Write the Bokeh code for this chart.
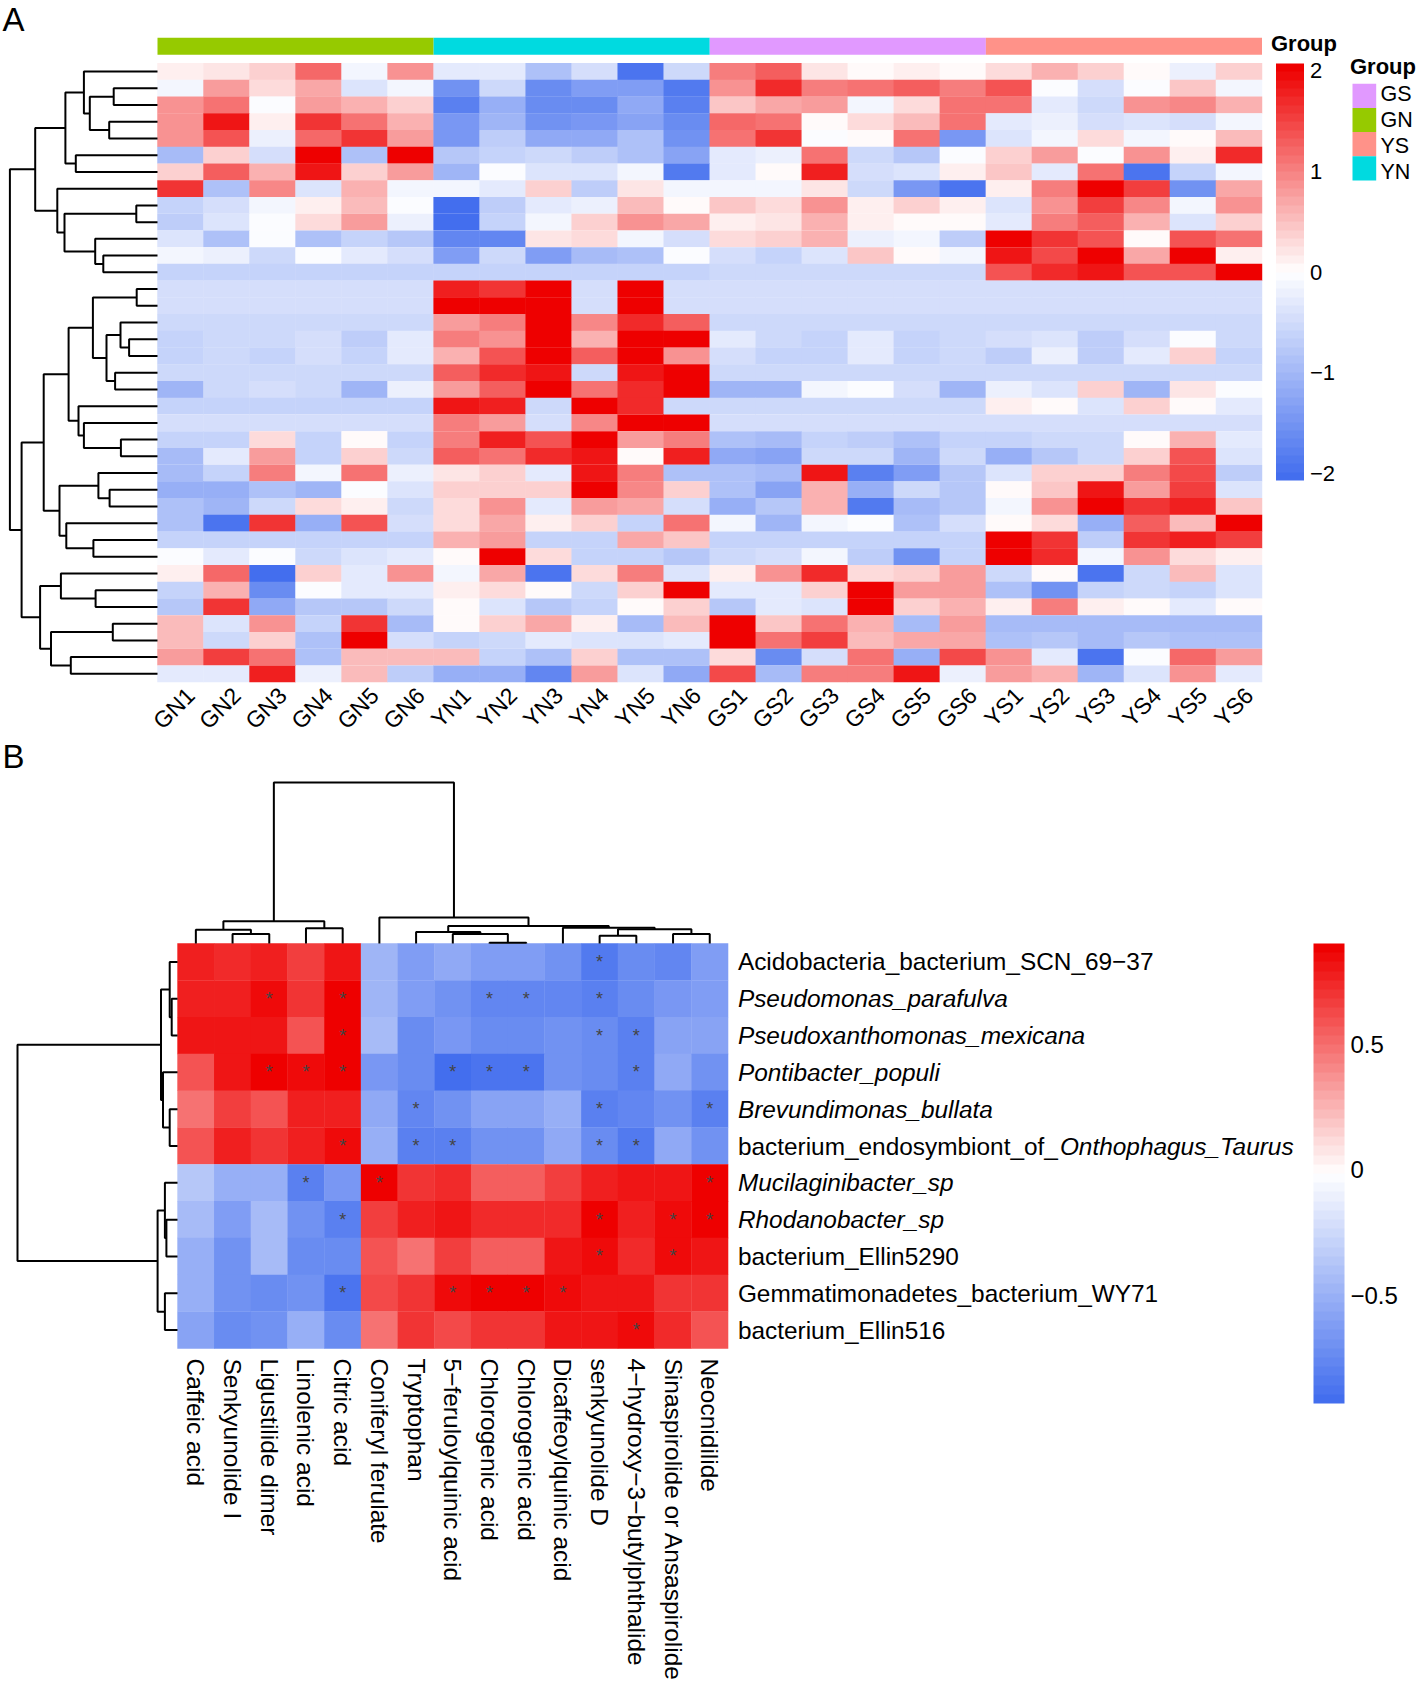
import numpy as np
from bokeh.plotting import figure
from bokeh.models import Range1d, ColumnDataSource, LinearColorMapper, ColorBar, FixedTicker
from bokeh.transform import transform
from bokeh.core.properties import value
from bokeh.embed import file_html
from bokeh.resources import INLINE

# ---------- data, panel A ----------
samples = ["GN1","GN2","GN3","GN4","GN5","GN6","YN1","YN2","YN3","YN4","YN5","YN6",
           "GS1","GS2","GS3","GS4","GS5","GS6","YS1","YS2","YS3","YS4","YS5","YS6"]
sample_groups = ["GN"]*6 + ["YN"]*6 + ["GS"]*6 + ["YS"]*6
group_names = ["GS","GN","YS","YN"]
group_colors = ["#E199FF","#96CA00","#FF9289","#00DAE0"]
matrix_a = [
[.15,.2,.35,1.2,-.1,.9,-.3,-.3,-.85,-.45,-1.95,-.55,1.0,1.25,.2,.03,.12,.02,.3,.65,.35,.05,-.2,.35],
[-.1,.8,.3,.7,-.4,-.1,-1.5,-.55,-1.6,-1.4,-1.35,-1.85,.9,1.7,1.0,1.1,1.3,1.0,1.35,-.08,-.45,-.08,.45,-.1],
[.9,1.1,-.05,.75,.65,.4,-1.8,-1.1,-1.6,-1.6,-1.2,-1.75,.45,.7,.8,-.1,.3,1.1,1.1,-.3,-.5,.9,.95,.65],
[.9,1.85,.1,1.6,1.15,.6,-1.45,-1.05,-1.55,-1.45,-1.25,-1.6,1.2,1.1,0,.3,.55,1.1,-.3,-.2,-.45,-.4,-.45,-.1],
[.85,1.35,-.2,1.2,1.6,.8,-1.45,-.7,-1.2,-1.2,-.9,-1.5,1.15,1.65,-.05,.05,1.1,-1.45,-.35,-.1,.25,-.15,0,.55],
[-.95,.35,-.45,2,-.85,2,-.75,-.65,-.55,-.7,-.9,-1.25,-.25,-.2,1.1,-.55,-.75,-.05,.4,.8,-.02,.85,.1,1.7],
[.35,1.25,.65,1.9,.4,.75,-1,-.05,-.4,-.35,-.1,-1.9,-.25,.08,1.8,-.45,-.35,.12,.45,-.3,1.15,-1.95,-.6,-.1],
[1.65,-.9,.95,-.35,.65,-.15,-.15,-.25,.35,-.7,.22,-.15,-.15,-.15,.2,-.5,-1.45,-1.95,.1,1,2,1.5,-1.5,.7],
[-.6,-.45,-.15,.1,.5,-.08,-2,-.7,-.25,-.2,.5,.03,.45,.25,.85,.15,.35,.15,-.4,.9,1.55,.95,-.1,.85],
[-.7,-.35,-.07,.25,.8,-.2,-2,-.65,-.12,.35,.9,.7,.1,.2,.65,.1,0,0,-.3,1.05,1.3,.6,-.4,.4],
[-.4,-.9,-.05,-.9,-.6,-.8,-1.7,-1.7,.2,.25,-.15,-.45,.25,.35,.65,-.2,-.15,-.7,2,1.6,1.35,.08,1.4,1.1],
[-.12,-.2,-.55,-.08,-.25,-.45,-1.35,-.55,-1.4,-.95,-.9,-.08,-.45,-.6,-.35,.45,0,-.12,1.9,1.45,2,.7,2,.1],
[-.58,-.58,-.58,-.58,-.58,-.58,-.58,-.58,-.58,-.58,-.58,-.58,-.55,-.55,-.55,-.55,-.55,-.55,1.4,1.7,1.9,1.4,1.4,2],
[-.45,-.45,-.45,-.45,-.45,-.45,1.8,1.6,2,-.45,2,-.45,-.45,-.45,-.45,-.45,-.45,-.45,-.45,-.45,-.45,-.45,-.45,-.45],
[-.45,-.45,-.45,-.45,-.45,-.45,2,2,2,-.45,2,-.45,-.45,-.45,-.45,-.45,-.45,-.45,-.45,-.45,-.45,-.45,-.45,-.45],
[-.5,-.5,-.5,-.5,-.5,-.5,.8,1.0,2,.95,1.7,1.25,-.5,-.5,-.5,-.5,-.5,-.5,-.5,-.5,-.5,-.5,-.5,-.5],
[-.65,-.55,-.55,-.45,-.7,-.3,1.05,.9,2,.65,2,2,-.3,-.55,-.6,-.25,-.6,-.55,-.45,-.4,-.7,-.42,-.03,-.55],
[-.6,-.55,-.6,-.45,-.6,-.3,.6,1.35,2,1.25,2,.85,-.45,-.65,-.65,-.25,-.62,-.55,-.7,-.2,-.7,-.33,.4,-.65],
[-.5,-.5,-.5,-.5,-.5,-.5,1.3,1.7,1.85,-.5,1.9,2,-.5,-.5,-.5,-.5,-.5,-.5,-.5,-.5,-.5,-.5,-.5,-.5],
[-1,-.55,-.45,-.5,-1,-.2,.8,1.3,2,1.1,1.7,2,-1.05,-1.05,-.15,-.07,-.45,-1,-.2,-.4,.4,-1,.2,-.07],
[-.58,-.58,-.58,-.58,-.58,-.58,1.9,1.8,-.55,2,1.7,-.55,-.55,-.55,-.55,-.55,-.55,-.55,.15,0,-.35,.4,0,-.3],
[-.48,-.48,-.48,-.48,-.48,-.48,1.0,.8,-.48,.95,2,2,-.48,-.48,-.48,-.48,-.48,-.48,-.48,-.48,-.48,-.48,-.48,-.48],
[-.65,-.65,.3,-.65,.05,-.65,1.0,1.8,1.35,2,.8,1.0,-.9,-.95,-.65,-.7,-.85,-.65,-.65,-.5,-.5,.05,.6,-.25],
[-.95,-.25,.8,-.6,.35,-.55,1.25,1.15,1.7,1.9,.07,1.75,-1.2,-1.3,-.55,-.5,-1,-.5,-1.1,-.8,-.5,.35,1.4,-.35],
[-.95,-.6,1.0,-.1,1.1,-.2,.2,.35,-.3,1.85,1.05,-.85,-.85,-.95,1.9,-1.8,-1.4,-.8,-.35,.35,.35,1.0,1.45,-.7],
[-1.15,-1.1,-.85,-1.05,-.05,-.4,.4,.4,.4,2,.95,.4,-.9,-1.3,.65,-1.15,-.55,-.75,0,.45,1.85,.8,1.5,-.35],
[-.9,-1.05,-.55,.3,.12,-.55,.3,.9,-.25,.75,.7,-.45,-1.15,-.8,.65,-1.85,-.95,-.75,-.15,.85,2,1.6,1.75,.45],
[-.85,-1.95,1.65,-1.1,1.4,-.45,.3,.7,.1,.35,-.6,1.1,-.1,-1.05,-.1,-.03,-.9,-.45,.02,.3,-1.15,1.3,.5,2],
[-.65,-.65,-.65,-.65,-.65,-.65,.65,.75,-.65,-.65,.7,.45,-.65,-.65,-.65,-.65,-.65,-.65,2,1.6,-.7,1.6,1.75,1.5],
[-.05,-.25,-.03,-.5,-.35,-.3,.08,2,.3,-.6,-.6,-.8,-.55,-.45,-.15,-.7,-1.5,-.6,2,1.7,-.1,.9,.25,.1],
[.1,1.2,-2,.35,-.25,.85,-.1,.7,-1.95,.3,1.05,-.4,.12,.9,1.7,.25,.4,.8,-.55,0,-1.95,-.55,.55,-.35],
[-.6,.6,-1.6,-.05,-.25,-.25,.15,.25,0,-.55,.4,2,-.3,-.3,.35,2,.75,.8,-.85,-1.55,-.6,-.5,-.65,-.35],
[-.75,1.65,-1.2,-.75,-.75,-.55,.07,-.4,-.75,-.65,0,.4,-.8,-.3,-.4,2,.35,.6,.1,1,.1,.03,-.3,.07],
[.55,-.35,.9,-.65,1.65,-.95,0,.4,.7,.12,-.95,.55,2,.45,1.15,.6,-.95,.75,-.95,-.95,-.95,-.95,-.95,-.95],
[.5,-.55,.35,-.85,2,-.45,-.65,-.55,-.3,-.4,-.4,-.3,2,1.1,1.55,.55,.7,.7,-.85,-.8,-.95,-.8,-.9,-.85],
[.8,1.55,1.15,-.85,.5,.5,.5,-.65,-.85,.35,-.85,-.85,.25,-1.6,-.45,1.1,-1.15,1.45,.85,-.25,-1.95,-.05,1.2,.75],
[-.25,-.25,1.75,-.22,.5,-.7,-1.15,-1.1,-1.7,.75,-.4,-1.2,1.45,-.95,1.05,1.05,1.9,-.2,.8,.6,-1,-.35,.9,-.3],
]
# dendrogram: (height, left, right); integers are leaves
tree_a = (147.6,
  (122.3,
    (92.1,
      (73.6, 0, (67.7, (43.8, 1, 2), (48.3, 3, 4))),
      (81.7, 5, 6)),
    (100.2, 7,
      (93.0, (21.2, 8, 9), (62.3, 10, (54.2, 11, 12))))),
  (135.9,
    (113.8,
      (88.9,
        (64.6, (20.8, 13, 14),
          (51.0, (37.0, 15, (28.4, 16, 17)), (42.4, 18, 19))),
        (79.0, 20, (73.6, 21, (36.6, 22, 23)))),
      (98.0,
        (59.1, 24, (47.9, 25, 26)),
        (91.2, 27, (64.1, 28, 29)))),
    (117.4,
      (96.6, 30, (61.9, 31, 32)),
      (106.5, (44.7, 33, 34), (86.7, 35, 36)))))
bar_ticks_a = [-2, -1, 0, 1, 2]

# ---------- data, panel B ----------
metabolites = ["Caffeic acid","Senkyunolide I","Ligustilide dimer","Linolenic acid","Citric acid",
  "Coniferyl ferulate","Tryptophan","5\u2212feruloylquinic acid","Chlorogenic acid","Chlorogenic acid",
  "Dicaffeoylquinic acid","senkyunolide D","4\u2212hydroxy\u22123\u2212butylphthalide",
  "Sinaspirolide or Ansaspirolide","Neocnidilide"]
# each bacterium label: (plain start, italic part)
bacteria = [("Acidobacteria_bacterium_SCN_69\u221237",""),("","Pseudomonas_parafulva"),
  ("","Pseudoxanthomonas_mexicana"),("","Pontibacter_populi"),("","Brevundimonas_bullata"),
  ("bacterium_endosymbiont_of_","Onthophagus_Taurus"),("","Mucilaginibacter_sp"),("","Rhodanobacter_sp"),
  ("bacterium_Ellin5290",""),("Gemmatimonadetes_bacterium_WY71",""),("bacterium_Ellin516","")]
matrix_b = [
[.76,.72,.77,.68,.82,-.44,-.6,-.52,-.58,-.58,-.65,-.8,-.72,-.75,-.6],
[.77,.77,.85,.7,.9,-.45,-.58,-.66,-.74,-.74,-.74,-.78,-.7,-.62,-.6],
[.8,.82,.82,.6,.87,-.42,-.7,-.62,-.7,-.7,-.65,-.72,-.78,-.55,-.57],
[.58,.82,.9,.85,.88,-.62,-.7,-.87,-.84,-.84,-.65,-.7,-.78,-.52,-.68],
[.5,.68,.58,.77,.77,-.53,-.75,-.68,-.55,-.55,-.47,-.77,-.73,-.68,-.76],
[.58,.78,.7,.76,.84,-.48,-.78,-.78,-.68,-.68,-.52,-.72,-.8,-.52,-.68],
[-.35,-.5,-.5,-.78,-.62,.87,.7,.75,.57,.57,.67,.78,.82,.82,.88],
[-.42,-.58,-.4,-.65,-.78,.65,.77,.82,.72,.72,.72,.9,.76,.85,.9],
[-.47,-.68,-.4,-.7,-.72,.6,.48,.68,.55,.55,.8,.85,.75,.85,.8],
[-.48,-.68,-.72,-.65,-.85,.62,.7,.84,.9,.9,.85,.8,.8,.7,.7],
[-.57,-.7,-.65,-.47,-.72,.48,.7,.62,.7,.7,.8,.8,.85,.75,.6],
]
star_rows = [0,1,1,1,1,1,2,2,2,3,3,3,3,3,3,3,4,4,4,5,5,5,5,5,6,6,6,7,7,7,7,8,8,9,9,9,9,9,10]
star_cols = [11,2,4,8,9,11,4,11,12,2,3,4,7,8,9,12,6,11,14,4,6,7,11,12,3,5,14,4,11,13,14,11,13,4,7,8,9,10,12]
tree_b_rows = (160.0,
  (16.5, (7.8, 0, (5.8, 1, 2)), (14.5, 3, (7.8, 4, 5))),
  (19.9, (12.6, 6, (11.1, 7, 8)), (12.6, 9, 10)))
tree_b_cols = (161.1,
  (22.2, (13.8, 0, (9.6, 1, 2)), (15.3, 3, 4)),
  (26.0, 5,
    (17.6,
      (11.5, 6, (9.6, 7, (0.8, 8, 9))),
      (15.7, 10, (14.2, (7.7, 11, 12), (9.6, 13, 14))))))
bar_ticks_b = [-0.5, 0, 0.5]

# ---------- layout (image pixels) ----------
PX0, PX1, PY0, PY1 = 0, 1416, 0, 1682
SANS = "Liberation Sans"
BLUE, WHITE, RED = (0x43,0x6E,0xEE), (255,255,255), (0xEE,0,0)

def ramp(n=50):
    out = []
    for t in np.linspace(0, 1, n):
        a, b, f = (BLUE, WHITE, t*2) if t < .5 else (WHITE, RED, t*2-1)
        out.append("#%02x%02x%02x" % tuple(int(round(a[i]+(b[i]-a[i])*f)) for i in range(3)))
    return out
PAL = ramp(50)

def xrange_for(a, b, pa, pb):
    s = (b-a)/(pb-pa)
    return Range1d(start=a+(PX0-pa)*s, end=a+(PX1-pa)*s)
def yrange_for(a, b, pa, pb):
    s = (b-a)/(pb-pa)
    return Range1d(start=a+(PY1-pa)*s, end=a+(PY0-pa)*s)

p = figure(width=PX1-PX0, height=PY1-PY0, x_range=(PX0, PX1), y_range=(PY1, PY0),
           output_backend="svg", toolbar_location=None, min_border=0,
           x_axis_type=None, y_axis_type=None)
p.grid.visible = False
p.outline_line_color = None

p.extra_x_ranges = {
    "ax": xrange_for(0, 24, 157, 1261.5),
    "adx": xrange_for(0, 100, 157, 57),
    "bx": xrange_for(0, 15, 177, 727.6),
    "bdx": xrange_for(0, 100, 177, 77),
}
p.extra_y_ranges = {
    "ay": yrange_for(0, 37, 62.7, 681.7),
    "ann": yrange_for(0, 1, 37.3, 54.3),
    "by": yrange_for(0, 11, 943, 1348),
    "bdy": yrange_for(0, 100, 943, 843),
}

def walk(node, xs, ys, horizontal):
    """Return (height, position) of node; append U-shaped links."""
    if isinstance(node, int):
        return 0.0, node+.5
    h, l, r = node
    hl, pl = walk(l, xs, ys, horizontal)
    hr, pr = walk(r, xs, ys, horizontal)
    hs, ps = [hl, h, h, hr], [pl, pl, pr, pr]
    xs.append(hs if horizontal else ps)
    ys.append(ps if horizontal else hs)
    return h, (pl+pr)/2

def dendro(tree, horizontal, xr, yr):
    xs, ys = [], []
    walk(tree, xs, ys, horizontal)
    p.multi_line(xs, ys, line_color="black", line_width=2.0, x_range_name=xr, y_range_name=yr)

def heat(matrix, mapper, xr, yr):
    m = np.array(matrix, dtype=float)
    rows, cols = np.indices(m.shape)
    src = ColumnDataSource(dict(x=cols.ravel()+.5, y=rows.ravel()+.5, v=m.ravel()))
    p.rect("x", "y", 1.01, 1.01, source=src, fill_color=transform("v", mapper),
           line_color=None, x_range_name=xr, y_range_name=yr)

def txt(x, y, s, size, align="left", base="middle", angle=0, style="normal", color="black", font=SANS, **kw):
    p.text(x=x, y=y, text=s, text_font=value(font), text_font_size=value(size), text_align=align,
           text_baseline=base, angle=angle, text_font_style=style, text_color=color, **kw)

def colorbar(low, high, ticks, x, top, bottom, w, fsize, standoff):
    m = LinearColorMapper(palette=PAL, low=low, high=high)
    over = {t: (("\u2212" if t < 0 else "") + (("%g" % abs(t)))) for t in ticks}
    cb = ColorBar(color_mapper=m, ticker=FixedTicker(ticks=ticks), major_label_overrides=over,
                  location=(x-PX0, PY1-bottom), width=int(w), height=int(round(bottom-top)), padding=0, margin=0,
                  major_tick_line_color=None, minor_tick_line_color=None, bar_line_color=None,
                  border_line_color=None, background_fill_color=None, label_standoff=standoff,
                  major_label_text_font=SANS, major_label_text_font_size=fsize,
                  major_label_text_color="black")
    p.add_layout(cb, "center")

# ---------- panel A ----------
map_a = LinearColorMapper(palette=PAL, low=-2.07, high=2.07)
heat(matrix_a, map_a, "ax", "ay")
grp_col = dict(zip(group_names, group_colors))
run_groups = list(dict.fromkeys(sample_groups))
run_start = [sample_groups.index(g) for g in run_groups]
run_count = [sample_groups.count(g) for g in run_groups]
p.quad(left=run_start, right=[s+c for s, c in zip(run_start, run_count)], top=[0]*len(run_groups),
       bottom=[1]*len(run_groups), line_color=None, fill_color=[grp_col[g] for g in run_groups],
       x_range_name="ax", y_range_name="ann")
dendro(tree_a, True, "adx", "ay")
txt([i+.72 for i in range(24)], [691]*24, samples, "23px", align="right", angle=np.pi/4, x_range_name="ax")
colorbar(-2.07, 2.07, bar_ticks_a, 1275.5, 62.7, 480, 28, "22px", 6)
txt([1270.5], [43], ["Group"], "22px", style="bold")
txt([1349.5], [66], ["Group"], "22px", style="bold")
for i, (g, c) in enumerate(zip(group_names, group_colors)):
    p.quad(left=[1352], right=[1375.7], top=[83.3+24.15*i], bottom=[107.45+24.15*i], fill_color=c, line_color=None)
    txt([1380], [93.5+26*i], [g], "21.5px")
txt([2], [19], ["A"], "33px", base="middle")
txt([2], [756], ["B"], "33px", base="middle")

# ---------- panel B ----------
map_b = LinearColorMapper(palette=PAL, low=-.9, high=.9)
heat(matrix_b, map_b, "bx", "by")
dendro(tree_b_rows, True, "bdx", "by")
dendro(tree_b_cols, False, "bx", "bdy")
txt([c+.5 for c in star_cols], [r+.5 for r in star_rows], ["*"]*len(star_cols), "18px",
    align="center", color="#444444", x_range_name="bx", y_range_name="by")
txt([i+.5 for i in range(15)], [1358]*15, metabolites, "24.5px", angle=-np.pi/2, x_range_name="bx")
for r, (plain, ital) in enumerate(bacteria):
    if plain:
        txt([737.4], [r+.5], [plain], "24.4px", y_range_name="by")
    if ital:
        txt([1059.4 if plain else 737.4], [r+.5], [ital], "24.4px", style="italic", y_range_name="by")
colorbar(-.93, .90, bar_ticks_b, 1313, 943, 1403, 31, "24px", 6)

open("out.html", "w").write(file_html(p, INLINE))
